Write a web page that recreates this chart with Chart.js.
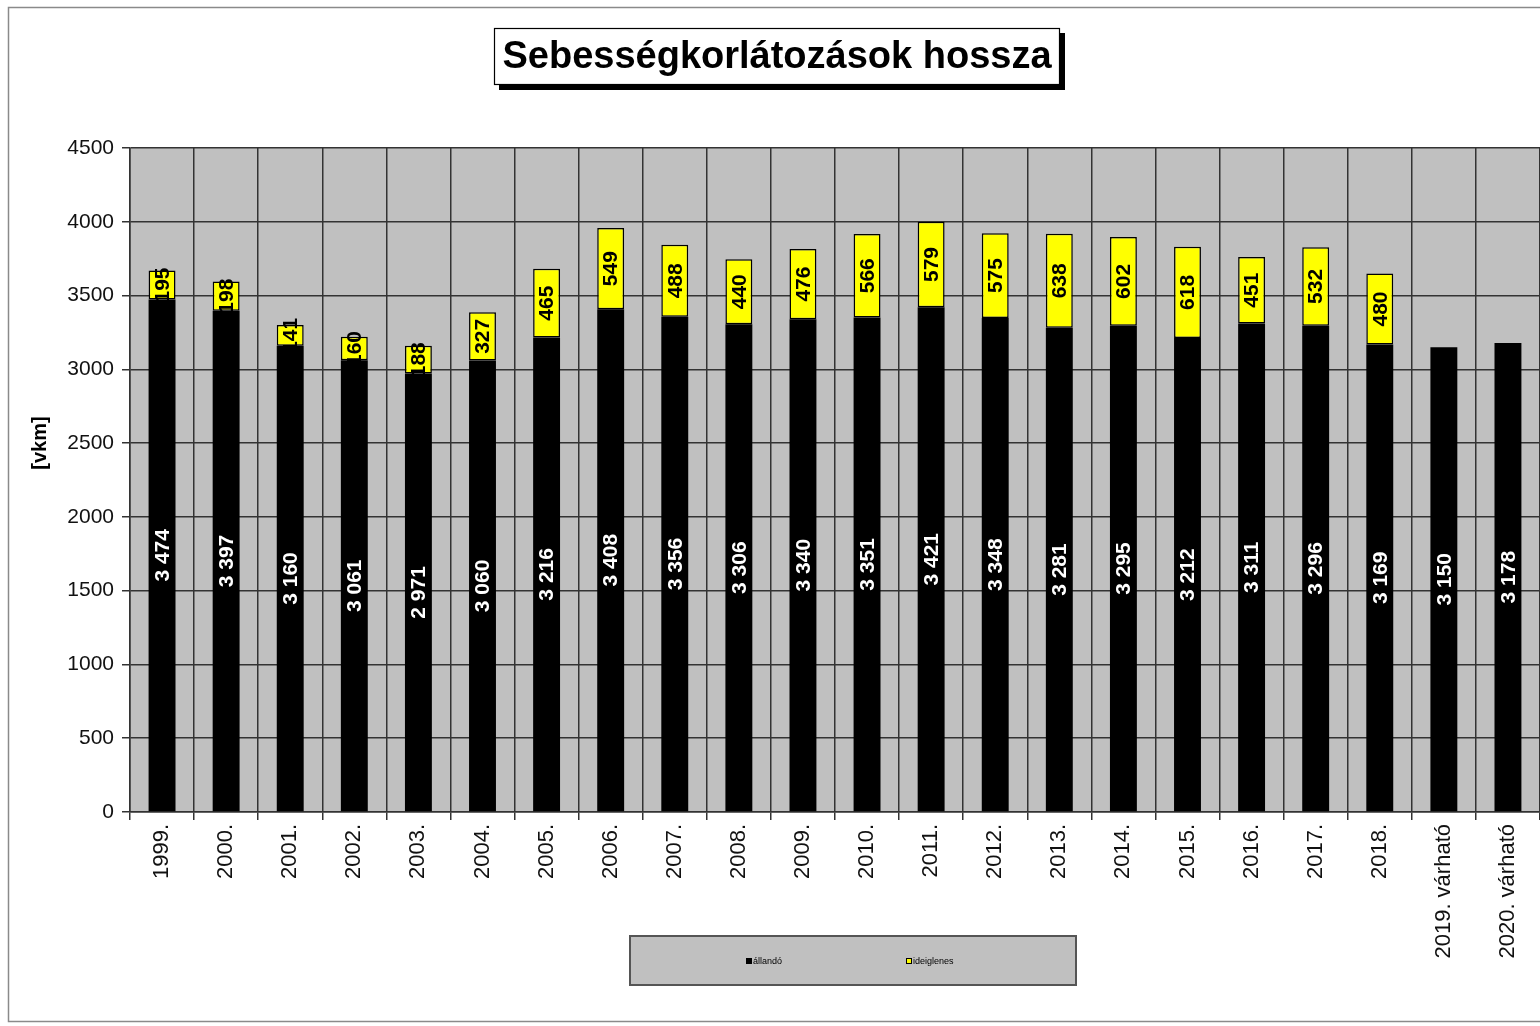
<!DOCTYPE html>
<html>
<head>
<meta charset="utf-8">
<script src="https://cdn.jsdelivr.net/npm/chart.js@4.4.0/dist/chart.umd.min.js"></script>
<style>
  html, body { margin: 0; padding: 0; background: #fff; overflow: hidden; }
  #wrap { width: 1560px; height: 1026px; }
</style>
</head>
<body>
<div id="wrap"><canvas id="sebessegChart" width="1560" height="1026"></canvas></div>
<script>
var evek = ['1999.', '2000.', '2001.', '2002.', '2003.', '2004.', '2005.', '2006.', '2007.', '2008.',
            '2009.', '2010.', '2011.', '2012.', '2013.', '2014.', '2015.', '2016.', '2017.', '2018.',
            '2019. várható', '2020. várható'];
var allando = [3474, 3397, 3160, 3061, 2971, 3060, 3216, 3408, 3356, 3306,
               3340, 3351, 3421, 3348, 3281, 3295, 3212, 3311, 3296, 3169,
               3150, 3178];
var ideiglenes = [195, 198, 141, 160, 188, 327, 465, 549, 488, 440,
                  476, 566, 579, 575, 638, 602, 618, 451, 532, 480,
                  null, null];
var cim = 'Sebességkorlátozások hossza';
var tengelyCim = '[vkm]';

function ezres(v) {
    return String(v).replace(/\B(?=(\d{3})+(?!\d))/g, ' ');
}

// szürke háttér a rajzterületnek, keret, cím doboz
var hatterPlugin = {
    id: 'hatter',
    beforeDraw: function (chart) {
        var ctx = chart.ctx;
        var a = chart.chartArea;
        ctx.save();
        // külső keret
        ctx.strokeStyle = '#8a8a8a';
        ctx.lineWidth = 1.5;
        ctx.strokeRect(8.5, 7.5, 1600, 1014);
        // rajzterület
        ctx.fillStyle = '#c0c0c0';
        ctx.fillRect(a.left, a.top, a.right - a.left, a.bottom - a.top);
        ctx.restore();
    },
    afterDraw: function (chart) {
        var ctx = chart.ctx;
        ctx.save();
        // cím árnyékkal
        ctx.fillStyle = '#000';
        ctx.fillRect(499, 33, 566, 57);
        ctx.fillStyle = '#fff';
        ctx.fillRect(494, 28, 566, 57);
        ctx.strokeStyle = '#000';
        ctx.lineWidth = 1.2;
        ctx.strokeRect(494.5, 28.5, 565, 56);
        ctx.fillStyle = '#000';
        ctx.font = 'bold 38px "Liberation Sans", Arial, sans-serif';
        ctx.textAlign = 'center';
        ctx.textBaseline = 'middle';
        ctx.fillText(cim, 777, 58);

        // y tengely felirat
        ctx.translate(40, 443);
        ctx.rotate(-Math.PI / 2);
        ctx.font = 'bold 20px "Liberation Sans", Arial, sans-serif';
        ctx.fillText(tengelyCim, 0, 0);
        ctx.restore();

        // jelmagyarázat
        ctx.save();
        ctx.fillStyle = '#c0c0c0';
        ctx.fillRect(629, 935, 448, 51);
        ctx.strokeStyle = '#555';
        ctx.lineWidth = 2;
        ctx.strokeRect(630, 936, 446, 49);
        var ds = chart.data.datasets;
        var xs = [746, 906];
        ctx.font = '9px "Liberation Sans", Arial, sans-serif';
        ctx.textBaseline = 'middle';
        ctx.textAlign = 'left';
        for (var i = 0; i < ds.length; i++) {
            ctx.fillStyle = ds[i].backgroundColor;
            ctx.fillRect(xs[i], 958, 6, 6);
            ctx.strokeStyle = '#000';
            ctx.lineWidth = 1;
            ctx.strokeRect(xs[i] + 0.5, 958.5, 5, 5);
            ctx.fillStyle = '#000';
            ctx.fillText(ds[i].label, xs[i] + 7, 961.5);
        }
        ctx.restore();
    }
};

// oszlopfeliratok (elforgatva)
var feliratPlugin = {
    id: 'feliratok',
    afterDatasetsDraw: function (chart) {
        var ctx = chart.ctx;
        ctx.save();
        ctx.font = 'bold 21px "Liberation Sans", Arial, sans-serif';
        ctx.textAlign = 'center';
        ctx.textBaseline = 'middle';
        chart.data.datasets.forEach(function (ds, di) {
            var meta = chart.getDatasetMeta(di);
            meta.data.forEach(function (el, i) {
                var v = ds.data[i];
                if (v === null || v === undefined) return;
                var cy = (el.y + el.base) / 2;
                ctx.save();
                ctx.translate(el.x + 1, cy);
                ctx.rotate(-Math.PI / 2);
                ctx.fillStyle = di === 0 ? '#ffffff' : '#000000';
                ctx.fillText(ezres(v), 0, 0);
                ctx.restore();
            });
        });
        ctx.restore();
    }
};

var ctx = document.getElementById('sebessegChart').getContext('2d');
var chart = new Chart(ctx, {
    type: 'bar',
    data: {
        labels: evek,
        datasets: [{
                label: 'állandó',
                data: allando,
                backgroundColor: '#000000',
                borderColor: '#000000',
                borderWidth: 0,
                barPercentage: 0.42,
                categoryPercentage: 1
            }, {
                label: 'ideiglenes',
                data: ideiglenes,
                backgroundColor: '#ffff00',
                borderColor: '#000000',
                borderWidth: 1.5,
                borderSkipped: false,
                barPercentage: 0.42,
                categoryPercentage: 1
            }]
    },
    options: {
        responsive: false,
        animation: false,
        layout: {
            padding: { left: 28, top: 148, right: 20, bottom: 0 }
        },
        plugins: {
            legend: { display: false },
            title: { display: false },
            tooltip: { enabled: false }
        },
        scales: {
            x: {
                stacked: true,
                afterFit: function (scale) { scale.height = 214; },
                grid: {
                    offset: true,
                    color: '#333333',
                    lineWidth: 1.5,
                    tickLength: 8
                },
                border: { color: '#333333', width: 1.5 },
                ticks: {
                    autoSkip: false,
                    maxRotation: 90,
                    minRotation: 90,
                    padding: 4,
                    color: '#111',
                    font: { family: '"Liberation Sans", Arial, sans-serif', size: 22 }
                }
            },
            y: {
                stacked: true,
                min: 0,
                max: 4500,
                afterFit: function (scale) { scale.width = 102; },
                grid: {
                    color: '#333333',
                    lineWidth: 1.5,
                    tickLength: 8
                },
                border: { color: '#333333', width: 1.5 },
                ticks: {
                    stepSize: 500,
                    padding: 8,
                    color: '#111',
                    font: { family: '"Liberation Sans", Arial, sans-serif', size: 21 },
                    callback: function (value) { return String(value); }
                }
            }
        }
    },
    plugins: [hatterPlugin, feliratPlugin]
});
</script>
</body>
</html>
